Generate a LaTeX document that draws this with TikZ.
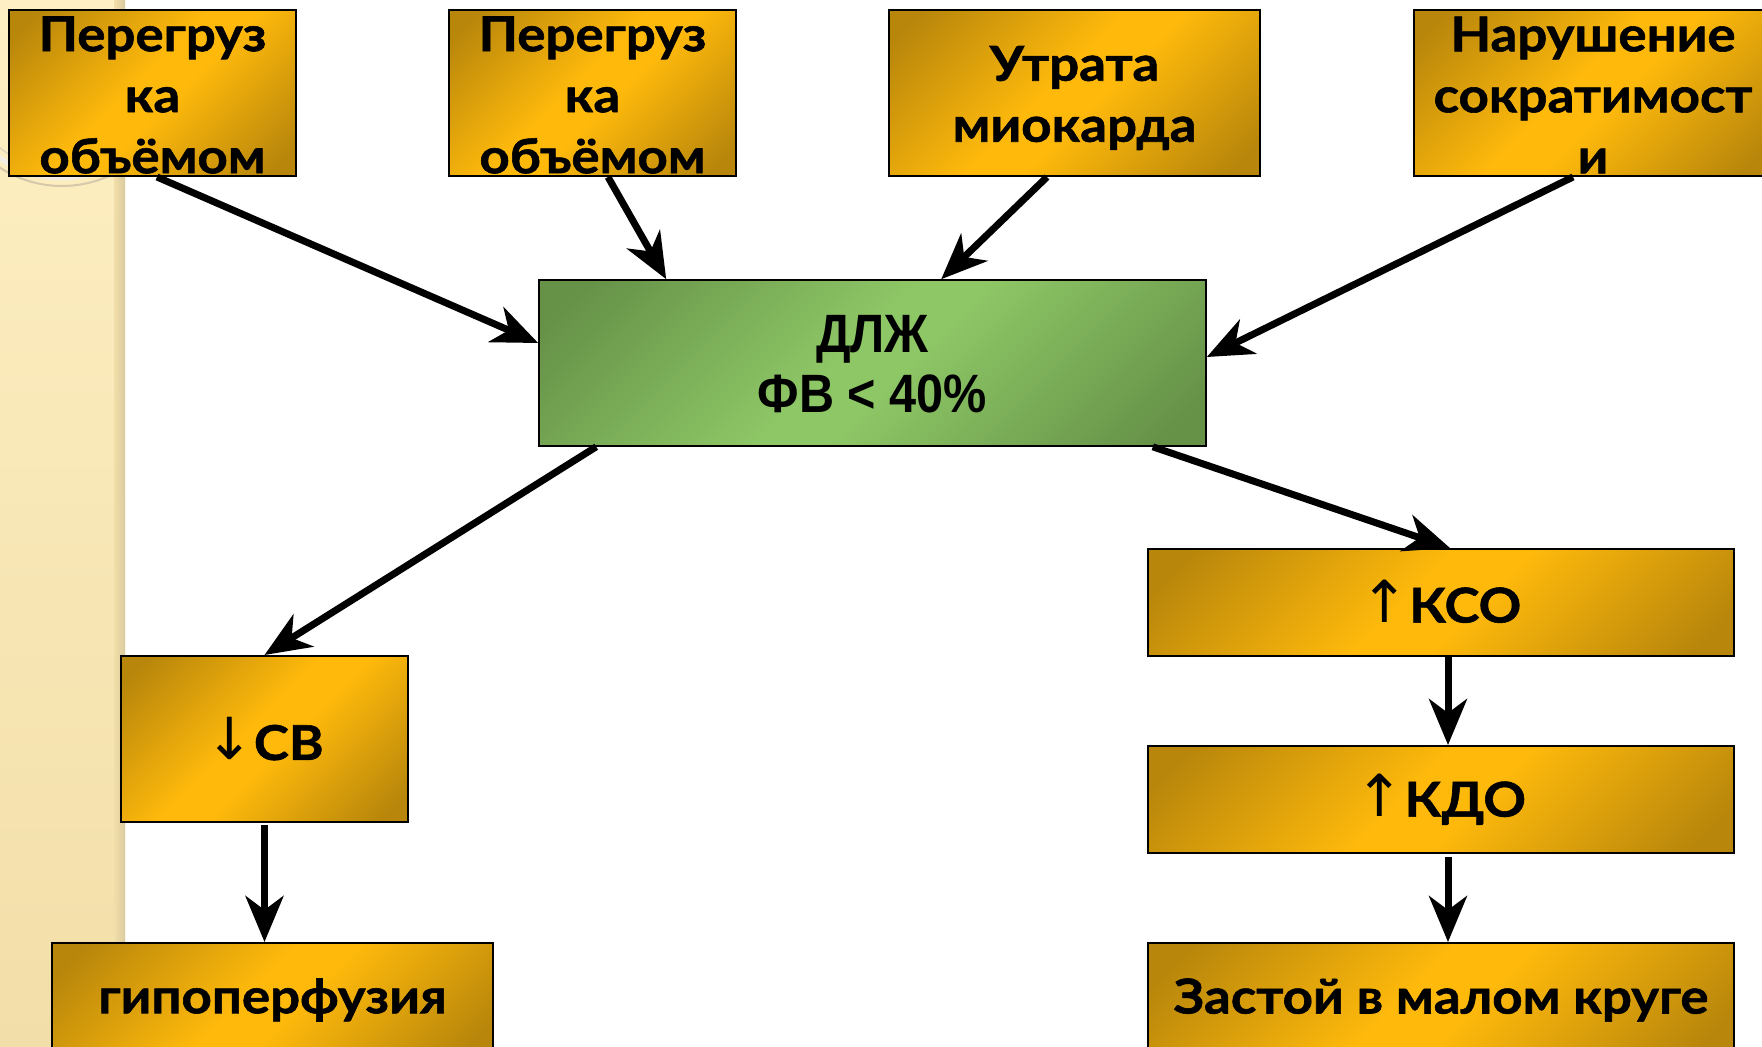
\documentclass[tikz,border=0pt]{standalone}
\usepackage{fontspec}
\setmainfont{Lato}[BoldFeatures={FakeStretch=1.1,FakeBold=1.2}]
\newfontfamily\narrowfont{Liberation Sans}[FakeStretch=0.9]
\newfontfamily\symfont{DejaVu Sans}
\usetikzlibrary{arrows.meta,calc}

\definecolor{gdark}{RGB}{184,134,11}
\definecolor{gbright}{RGB}{254,185,11}
\definecolor{grdark}{RGB}{102,146,72}
\definecolor{grlight}{RGB}{142,199,102}
\definecolor{striptop}{RGB}{254,240,196}
\definecolor{stripbot}{RGB}{242,222,168}
\definecolor{stripedge}{RGB}{218,203,160}
\definecolor{ringc}{RGB}{214,200,170}

% diagonal metallic fills: dark corners, light middle
\pgfdeclarehorizontalshading{goldfill}{100bp}{color(0bp)=(gdark); color(19bp)=(gdark);
  color(46bp)=(gbright); color(54bp)=(gbright); color(81bp)=(gdark); color(100bp)=(gdark)}
\pgfdeclarehorizontalshading{greenfill}{100bp}{color(0bp)=(grdark); color(19bp)=(grdark);
  color(47bp)=(grlight); color(53bp)=(grlight); color(81bp)=(grdark); color(100bp)=(grdark)}

\tikzset{
  box/.style={draw=black, line width=2pt, inner sep=0pt, shading=goldfill, shading angle=135},
  greenbox/.style={draw=black, line width=1.6pt, inner sep=0pt, shading=greenfill, shading angle=135},
  boxtext/.style={align=center, inner sep=0pt,
    font=\fontsize{48}{61}\selectfont\bfseries},
  narrowtext/.style={align=center, inner sep=0pt,
    font=\fontsize{54}{60}\selectfont\narrowfont\bfseries},
  conn/.style={line width=7pt, -{Stealth[length=46pt, width=38pt, inset=14pt]}},
}
\newcommand\arrowsym[1]{{\symfont\fontsize{58}{60}\selectfont\mdseries #1}}

\begin{document}
\begin{tikzpicture}[x=1pt, y=-1pt]
\useasboundingbox (0,0) rectangle (1762,1047);
\fill[white] (0,0) rectangle (1762,1047);

% decorative side strip with its ring ornament
\shade[top color=striptop, bottom color=stripbot] (0,0) rectangle (125,1047);
\shade[left color=stripbot, right color=stripedge] (114,0) rectangle (125,1047);
\begin{scope}
  \clip (0,0) rectangle (116,1047);
  \draw[ringc, line width=2pt] (62,72) circle (114);
  \draw[white!70!ringc, line width=5pt] (62,72) circle (106);
  \draw[ringc!80, line width=1.5pt] (62,72) circle (98);
\end{scope}

% boxes
\node[box, minimum width=287pt, minimum height=166pt] (b1) at (152.5,93) {};
\node[box, minimum width=287pt, minimum height=166pt] (b2) at (592.5,93) {};
\node[box, minimum width=371pt, minimum height=166pt] (b3) at (1074.5,93) {};
\node[box, minimum width=358pt, minimum height=166pt] (b4) at (1593,93) {};
\node[greenbox, minimum width=667pt, minimum height=166pt] (dlj) at (872.5,363) {};
\node[box, minimum width=287pt, minimum height=166pt] (sv) at (264.5,739) {};
\node[box, minimum width=441pt, minimum height=114pt] (gipo) at (272.5,1000) {};
\node[box, minimum width=586pt, minimum height=107pt] (kso) at (1441,602.5) {};
\node[box, minimum width=586pt, minimum height=107pt] (kdo) at (1441,799.5) {};
\node[box, minimum width=586pt, minimum height=114pt] (zas) at (1441,1000) {};

% texts
\node[boxtext] (t1) at ([yshift=-2pt]b1.center) {Перегруз\\ка\\объёмом};
\node[boxtext] (t2) at ([yshift=-2pt]b2.center) {Перегруз\\ка\\объёмом};
\node[boxtext] (t3) at ([yshift=-5pt]b3.center) {Утрата\\миокарда};
\node[boxtext] (t4) at ([yshift=-2pt]b4.center) {Нарушение\\сократимост\\и};
\node[narrowtext] (t5) at ([yshift=-1pt]dlj.center) {ДЛЖ\\ФВ < 40\%};
\node[boxtext] (t6) at (sv.center) {\arrowsym{↓}СВ};
\node[boxtext] (t7) at (gipo.center) {гипоперфузия};
\node[boxtext] (t8) at ([yshift=1pt]kso.center) {\arrowsym{↑}КСО};
\node[boxtext] (t9) at (kdo.center) {\arrowsym{↑}КДО};
\node[boxtext] (t10) at (zas.center) {Застой в малом круге};

% connectors
\draw[conn] ([xshift=4.5pt]b1.south) -- ([yshift=20pt]dlj.west);
\draw[conn] ([xshift=15.5pt]b2.south) -- ([xshift=128pt]dlj.north west);
\draw[conn] ([xshift=-27.5pt]b3.south) -- ([xshift=403pt]dlj.north west);
\draw[conn] ([xshift=-20pt]b4.south) -- ([yshift=6pt]dlj.east);
\draw[conn] ([xshift=58pt]dlj.south west) -- (sv.north);
\draw[conn] ([xshift=-54pt]dlj.south east) -- ([xshift=9pt]kso.north);
\draw[conn] ([yshift=-2pt]sv.south) -- (sv.south |- gipo.north);
\draw[conn] ([xshift=7pt]kso.south) -- ([xshift=7pt]kso.south |- kdo.north);
\draw[conn] ([xshift=7pt,yshift=-3pt]kdo.south) -- ([xshift=7pt]kdo.south |- zas.north);
\end{tikzpicture}
\end{document}
